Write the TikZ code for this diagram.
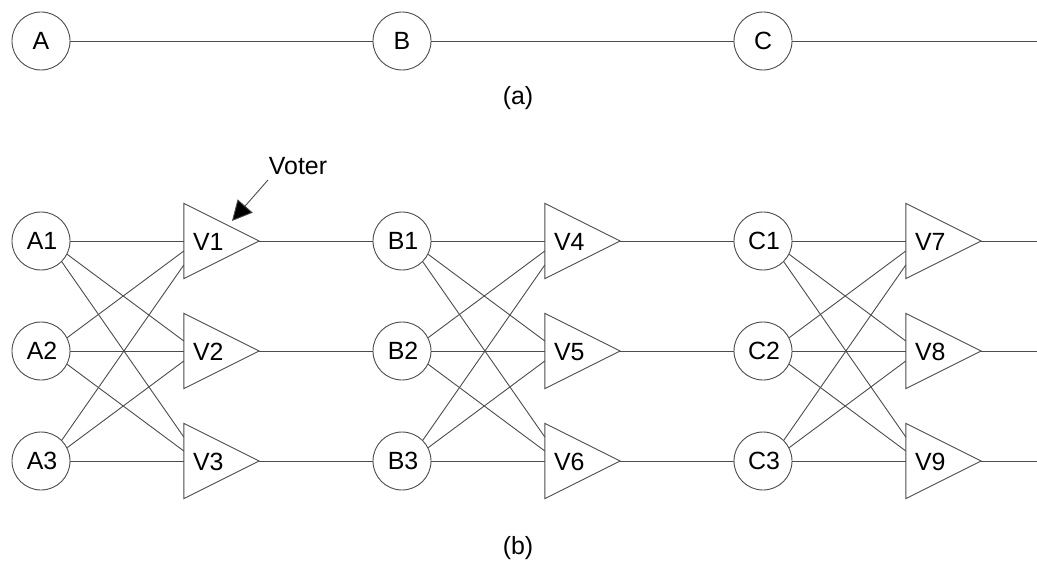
\documentclass[tikz,border=0pt]{standalone}
\usepackage{fontspec}
\setmainfont{Liberation Sans}
\usetikzlibrary{arrows.meta}
\begin{document}
\begin{tikzpicture}[x=1bp,y=-1bp,
  every node/.style={font=\fontsize{25}{29}\selectfont},
  conn/.style={draw=black!70, line width=0.9bp},
  station/.style={circle, draw=black!70, line width=0.9bp, minimum size=58bp, inner sep=0pt},
  votebox/.style={minimum width=75bp, minimum height=75bp, inner sep=0pt},
  votelbl/.style={anchor=west, inner sep=0pt}]
\useasboundingbox (0,0) rectangle (1037,563);
% (a)
\node[station] (A) at (41,41) {A};
\node[station] (B) at (402,41) {B};
\node[station] (C) at (763,41) {C};
\coordinate (aend) at (1037,41);
\draw[conn] (A.east) -- (B.west);
\draw[conn] (B.east) -- (C.west);
\draw[conn] (C.east) -- (aend);
\node (la) at (518,98) {(a)};
% (b)
\foreach \L/\k/\va/\vb/\vc in {A/0/1/2/3, B/1/4/5/6, C/2/7/8/9}{
  \foreach \r/\y/\v in {1/241/\va, 2/351/\vb, 3/461/\vc}{
    \node[station] (\L\r) at ({41+361*\k},\y) {\hspace{2bp}\L\r};
    \node[votebox] (V\v) at ({221.5+361*\k},\y) {};
    \draw[conn] (V\v.north west) -- (V\v.east) -- (V\v.south west) -- cycle;
    \node[votelbl] (V\v l) at ([xshift=9bp,yshift=-1bp]V\v.west) {V\v};
    \draw[conn] (\L\r.east) -- (V\v.west);
  }
  \draw[conn] (\L1.-27) -- ([yshift=10bp]V\vb.west);
  \draw[conn] (\L1.-45) -- ([yshift=24bp]V\vc.west);
  \draw[conn] (\L2.27) -- ([yshift=-10bp]V\va.west);
  \draw[conn] (\L2.-27) -- ([yshift=10bp]V\vc.west);
  \draw[conn] (\L3.45) -- ([yshift=-24bp]V\va.west);
  \draw[conn] (\L3.27) -- ([yshift=-10bp]V\vb.west);
}
\foreach \a/\b in {1/B1,2/B2,3/B3,4/C1,5/C2,6/C3}{
  \draw[conn] (V\a.east) -- (\b.west);
}
\coordinate (e7) at (1037,241);
\coordinate (e8) at (1037,351);
\coordinate (e9) at (1037,461);
\draw[conn] (V7.east) -- (e7);
\draw[conn] (V8.east) -- (e8);
\draw[conn] (V9.east) -- (e9);
% voter label
\node[inner sep=0pt] (voter) at (298,166) {Voter};
\coordinate (vstart) at (268,180);
\coordinate (vtip) at (232,221);
\draw[black!70, line width=0.9bp, -{Triangle[length=20bp,width=20bp,fill=black]}] (vstart) -- (vtip);
\node (lb) at (518,548) {(b)};
\end{tikzpicture}
\end{document}
